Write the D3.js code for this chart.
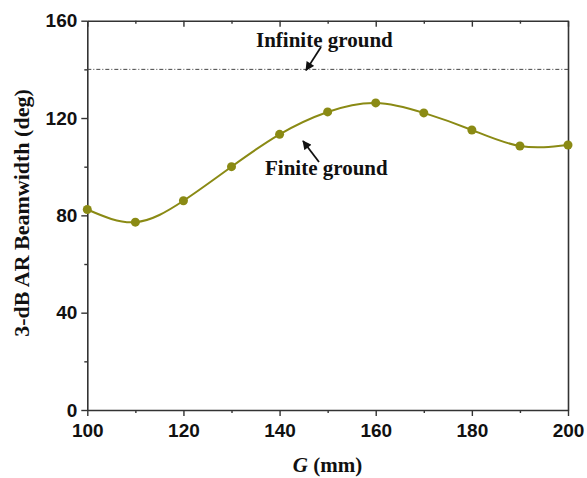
<!DOCTYPE html>
<html>
<head>
<meta charset="utf-8">
<script src="https://cdn.jsdelivr.net/npm/d3@7"></script>
<style>
  html, body { margin: 0; padding: 0; background: #fff; }
  svg { display: block; }
</style>
</head>
<body>
<div id="chart"></div>
<script>
// data
const gValues = [100, 110, 120, 130, 140, 150, 160, 170, 180, 190, 200];
const finiteGround = [82.4, 77.2, 86.0, 100.0, 113.3, 122.5, 126.2, 122.1, 115.1, 108.5, 108.9];
const infiniteGround = [140, 140, 140, 140, 140, 140, 140, 140, 140, 140, 140];
const xTicks = [100, 120, 140, 160, 180, 200];
const yTicks = [0, 40, 80, 120, 160];

const width = 587;
const height = 478;
const margin = { top: 20.7, right: 19, bottom: 68, left: 87.3 };

const svg = d3.select("#chart")
  .append("svg")
  .attr("width", width)
  .attr("height", height);

const x = d3.scaleLinear().domain([100, 200]).range([margin.left, width - margin.right]);
const y = d3.scaleLinear().domain([0, 160]).range([height - margin.bottom, margin.top]);

const axisColor = "#333";
const olive = "#8a8a14";

// minor ticks
const xMinor = d3.range(110, 200, 20);
const yMinor = d3.range(20, 160, 40);

// bottom axis
const bottomAxis = svg.append("g")
  .attr("transform", `translate(0,${y(0)})`)
  .call(d3.axisBottom(x).tickValues(xTicks).tickSize(6).tickPadding(8).tickSizeOuter(0));
bottomAxis.append("g")
  .call(d3.axisBottom(x).tickValues(xMinor).tickSize(3).tickFormat("").tickSizeOuter(0))
  .select(".domain").remove();

// top axis, ticks pointing in
const topAxis = svg.append("g")
  .attr("transform", `translate(0,${y(160)})`)
  .call(d3.axisTop(x).tickValues(xTicks).tickSize(-6).tickFormat("").tickSizeOuter(0));
topAxis.append("g")
  .call(d3.axisTop(x).tickValues(xMinor).tickSize(-3).tickFormat("").tickSizeOuter(0))
  .select(".domain").remove();

// left axis
const leftAxis = svg.append("g")
  .attr("transform", `translate(${x(100)},0)`)
  .call(d3.axisLeft(y).tickValues(yTicks).tickSize(6).tickPadding(4).tickSizeOuter(0));
leftAxis.append("g")
  .call(d3.axisLeft(y).tickValues(yMinor).tickSize(3).tickFormat("").tickSizeOuter(0))
  .select(".domain").remove();

// right axis, plain line
svg.append("g")
  .attr("transform", `translate(${x(200)},0)`)
  .call(d3.axisRight(y).tickValues([]).tickSizeOuter(0));

svg.selectAll(".domain").attr("stroke", axisColor).attr("stroke-width", 1.6);
svg.selectAll(".tick line").attr("stroke", axisColor).attr("stroke-width", 1.4);
svg.selectAll(".tick text")
  .attr("fill", "#111")
  .style("font-family", "Arial, 'Liberation Sans', sans-serif")
  .style("font-weight", "bold")
  .style("font-size", "19px");

// infinite ground line
const lineInf = d3.line()
  .x((d, i) => x(gValues[i]))
  .y(d => y(d));
svg.append("path")
  .datum(infiniteGround)
  .attr("fill", "none")
  .attr("stroke", "#444")
  .attr("stroke-width", 1)
  .attr("stroke-dasharray", "4,2,1,2")
  .attr("d", lineInf);

// finite ground curve
const lineFin = d3.line()
  .x((d, i) => x(gValues[i]))
  .y(d => y(d))
  .curve(d3.curveNatural);
svg.append("path")
  .datum(finiteGround)
  .attr("fill", "none")
  .attr("stroke", olive)
  .attr("stroke-width", 2)
  .attr("d", lineFin);

svg.selectAll("circle.pt")
  .data(finiteGround)
  .enter()
  .append("circle")
  .attr("class", "pt")
  .attr("cx", (d, i) => x(gValues[i]))
  .attr("cy", d => y(d))
  .attr("r", 4.5)
  .attr("fill", olive);

// arrow marker
svg.append("defs").append("marker")
  .attr("id", "arrow")
  .attr("viewBox", "0 0 10 10")
  .attr("refX", 9)
  .attr("refY", 5)
  .attr("markerWidth", 6)
  .attr("markerHeight", 5)
  .attr("orient", "auto")
  .append("path")
  .attr("d", "M0,0 L10,5 L0,10 Z")
  .attr("fill", "#111");

const serif = "'Times New Roman', 'Liberation Serif', serif";

// annotations
svg.append("text")
  .attr("x", 256)
  .attr("y", 47)
  .style("font-family", serif)
  .style("font-weight", "bold")
  .style("font-size", "21px")
  .attr("fill", "#111")
  .text("Infinite ground");
svg.append("line")
  .attr("x1", 321).attr("y1", 47)
  .attr("x2", 306).attr("y2", y(140) + 1)
  .attr("stroke", "#111").attr("stroke-width", 1.8)
  .attr("marker-end", "url(#arrow)");

svg.append("text")
  .attr("x", 265)
  .attr("y", 175)
  .style("font-family", serif)
  .style("font-weight", "bold")
  .style("font-size", "21px")
  .attr("fill", "#111")
  .text("Finite ground");
svg.append("line")
  .attr("x1", 319).attr("y1", 162)
  .attr("x2", 303).attr("y2", 141)
  .attr("stroke", "#111").attr("stroke-width", 1.8)
  .attr("marker-end", "url(#arrow)");

// axis titles
svg.append("text")
  .attr("transform", "translate(29,213) rotate(-90)")
  .attr("text-anchor", "middle")
  .style("font-family", serif)
  .style("font-weight", "bold")
  .style("font-size", "22px")
  .attr("fill", "#111")
  .text("3-dB AR Beamwidth (deg)");

const xTitle = svg.append("text")
  .attr("x", 327.5)
  .attr("y", 472)
  .attr("text-anchor", "middle")
  .style("font-family", serif)
  .style("font-weight", "bold")
  .style("font-size", "21px")
  .attr("fill", "#111");
xTitle.append("tspan").style("font-style", "italic").text("G");
xTitle.append("tspan").text(" (mm)");
</script>
</body>
</html>
